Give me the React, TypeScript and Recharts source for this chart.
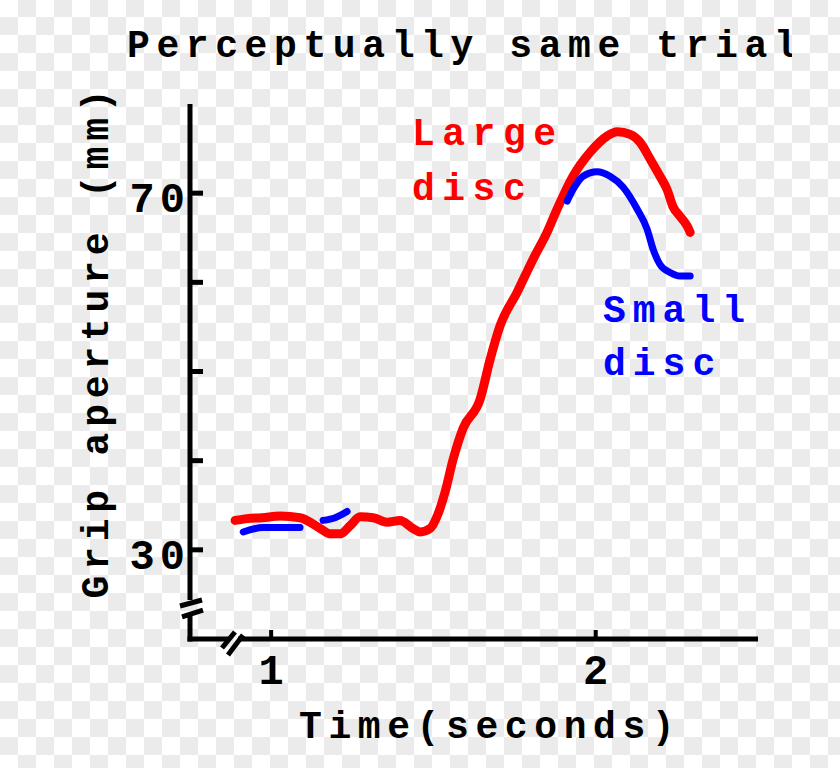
import React from "react";
import { LineChart, Line, XAxis, YAxis, ReferenceLine } from "recharts";

// Large disc trace (time in seconds, grip aperture in mm)
const largeTime = [0.889, 0.926, 0.972, 1.028, 1.089, 1.151, 1.182, 1.213, 1.243, 1.274, 1.314, 1.357, 1.397, 1.437, 1.459, 1.49, 1.514, 1.536, 1.561, 1.591, 1.644, 1.675, 1.705, 1.758, 1.807, 1.85, 1.881, 1.93, 1.983, 2.035, 2.066, 2.106, 2.137, 2.168, 2.198, 2.22, 2.238, 2.26, 2.282, 2.291];
const largeAperture = [33.3, 33.5, 33.6, 33.8, 33.6, 32.4, 31.8, 31.8, 32.7, 33.7, 33.6, 33.1, 33.3, 32.4, 32.0, 32.4, 34.0, 36.5, 40.2, 43.6, 46.9, 51.4, 55.1, 58.9, 62.6, 65.6, 68.2, 71.9, 74.6, 76.4, 76.9, 76.6, 75.7, 73.8, 71.9, 70.4, 68.5, 67.4, 66.3, 65.6];

// Small disc trace comes in three pieces (gaps in the recording)
const smallTime1 = [0.914, 0.975, 1.028, 1.089];
const smallAperture1 = [32.0, 32.5, 32.5, 32.5];
const smallTime2 = [1.16, 1.197, 1.234];
const smallAperture2 = [33.3, 33.6, 34.3];
const smallTime3 = [1.912, 1.93, 1.961, 2.004, 2.044, 2.084, 2.128, 2.158, 2.177, 2.198, 2.229, 2.26, 2.291];
const smallAperture3 = [69.1, 70.4, 71.9, 72.4, 71.9, 70.7, 68.2, 66.0, 63.7, 62.0, 61.1, 60.7, 60.7];

const xTicks = [1, 2];
const yTicks = [30, 40, 50, 60, 70];
const yLabelled = [30, 70];

const pair = (ts: number[], vs: number[]) => ts.map((t, i) => ({ t, v: vs[i] }));
const largeData = pair(largeTime, largeAperture);
const smallPieces = [
  pair(smallTime1, smallAperture1),
  pair(smallTime2, smallAperture2),
  pair(smallTime3, smallAperture3),
];

const FONT = "'Liberation Mono', 'DejaVu Sans Mono', monospace";

const YTick = (props: any) => {
  const { x, y, payload } = props;
  return (
    <g>
      <line x1={x} x2={x + 13} y1={y} y2={y} stroke="#000" strokeWidth={5} />
      {yLabelled.includes(payload.value) && (
        <text x={x} y={y + 19} textAnchor="end" fontFamily={FONT} fontSize={42} fontWeight="bold" letterSpacing={5} fill="#000">
          {payload.value}
        </text>
      )}
    </g>
  );
};

const XTick = (props: any) => {
  const { x, y, payload } = props;
  return (
    <g>
      <line x1={x} x2={x} y1={y} y2={y - 9} stroke="#000" strokeWidth={4} />
      <text x={x} y={y + 45} textAnchor="middle" fontFamily={FONT} fontSize={42} fontWeight="bold" fill="#000">
        {payload.value}
      </text>
    </g>
  );
};

const axisStyle = { stroke: "#000", strokeWidth: 5, ifOverflow: "visible" as const };

export default function App() {
  return (
    <div
      style={{
        position: "absolute",
        left: 0,
        top: 0,
        width: 840,
        height: 768,
        backgroundColor: "#fff",
        backgroundImage: "repeating-conic-gradient(#ebebeb 0 25%, #fff 0 50%)",
        backgroundSize: "36px 36px",
        backgroundPosition: "0 -1px",
      }}
    >
      <LineChart width={840} height={768} margin={{ top: 104, right: 82, bottom: 0, left: 0 }}>
        <XAxis
          dataKey="t"
          type="number"
          domain={[0.75, 2.5]}
          ticks={xTicks}
          allowDataOverflow
          axisLine={false}
          tickLine={false}
          tickSize={0}
          tickMargin={0}
          height={129}
          tick={<XTick />}
        />
        <YAxis
          type="number"
          domain={[20, 80]}
          ticks={yTicks}
          allowDataOverflow
          axisLine={false}
          tickLine={false}
          tickSize={0}
          tickMargin={0}
          width={190}
          tick={<YTick />}
        />

        {/* axes drawn as segments so they can carry the break marks */}
        <ReferenceLine segment={[{ x: 0.75, y: 80 }, { x: 0.75, y: 24.37 }]} {...axisStyle} />
        <ReferenceLine segment={[{ x: 0.75, y: 22.36 }, { x: 0.75, y: 20 }]} {...axisStyle} strokeLinecap="square" />
        <ReferenceLine segment={[{ x: 0.75, y: 20 }, { x: 0.864, y: 20 }]} {...axisStyle} strokeLinecap="square" />
        <ReferenceLine segment={[{ x: 0.898, y: 20 }, { x: 2.5, y: 20 }]} {...axisStyle} />

        <ReferenceLine segment={[{ x: 0.7192, y: 23.7 }, { x: 0.787, y: 24.37 }]} {...axisStyle} />
        <ReferenceLine segment={[{ x: 0.7254, y: 22.47 }, { x: 0.79, y: 23.25 }]} {...axisStyle} />
        <ReferenceLine segment={[{ x: 0.8486, y: 18.99 }, { x: 0.8886, y: 20.79 }]} {...axisStyle} />
        <ReferenceLine segment={[{ x: 0.867, y: 18.21 }, { x: 0.9133, y: 20.45 }]} {...axisStyle} />

        <Line
          data={largeData}
          dataKey="v"
          type="monotone"
          stroke="#ff0000"
          strokeWidth={9}
          strokeLinecap="round"
          strokeLinejoin="round"
          dot={false}
          activeDot={false}
          isAnimationActive={false}
        />
        {smallPieces.map((piece, i) => (
          <Line
            key={i}
            data={piece}
            dataKey="v"
            type="monotone"
            stroke="#0000ff"
            strokeWidth={7}
            strokeLinecap="round"
            strokeLinejoin="round"
            dot={false}
            activeDot={false}
            isAnimationActive={false}
          />
        ))}

        <defs>
          <clipPath id="titleClip">
            <rect x={0} y={0} width={792} height={100} />
          </clipPath>
        </defs>
        <g clipPath="url(#titleClip)">
          <text x={127} y={57} fontFamily={FONT} fontSize={38} fontWeight="bold" letterSpacing={6.6} fill="#000">
            Perceptually same trial
          </text>
        </g>
        <text x={299} y={738} fontFamily={FONT} fontSize={38} fontWeight="bold" letterSpacing={6.6} fill="#000">
          Time(seconds)
        </text>
        <text transform="translate(108, 341) rotate(-90)" textAnchor="middle" fontFamily={FONT} fontSize={38} fontWeight="bold" letterSpacing={5.8} fill="#000">
          Grip aperture (mm)
        </text>

        <text fontFamily={FONT} fontSize={38} fontWeight="bold" letterSpacing={7.5} fill="#ff0000">
          <tspan x={412} y={145}>Large</tspan>
          <tspan x={412} y={200}>disc</tspan>
        </text>
        <text fontFamily={FONT} fontSize={38} fontWeight="bold" letterSpacing={7} fill="#0000ff">
          <tspan x={603} y={322}>Small</tspan>
          <tspan x={603} y={375}>disc</tspan>
        </text>
      </LineChart>
    </div>
  );
}
